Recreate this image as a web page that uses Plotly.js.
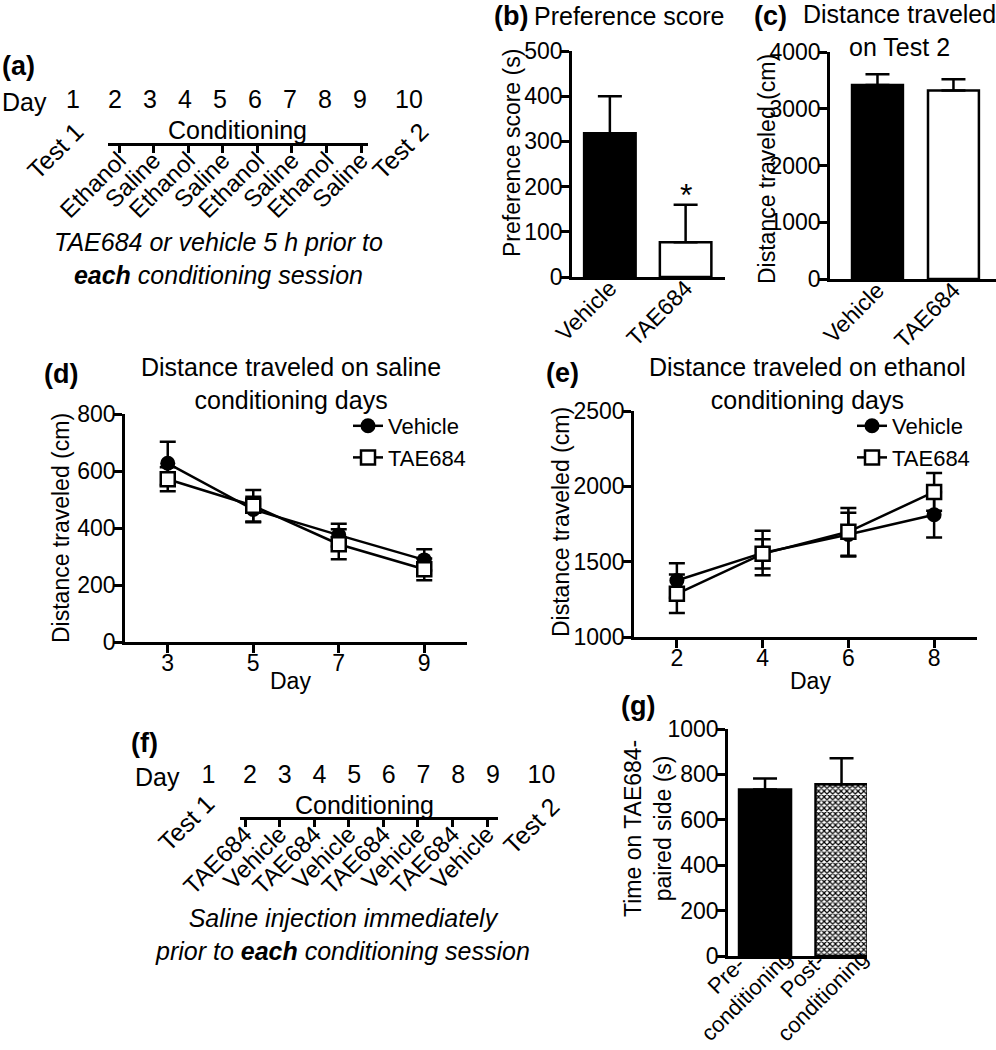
<!DOCTYPE html>
<html><head><meta charset="utf-8">
<script src="https://cdn.plot.ly/plotly-3.0.1.min.js"></script>
<style>html,body{margin:0;padding:0;background:#fff}#chart{width:996px;height:1050px}</style>
</head><body><div id="chart"></div>
<script>
// ---------- data ----------
const groups = ['Vehicle', 'TAE684'];
const preferenceScore = [318, 77];
const preferenceSem = [82, 83];
const test2Distance = [3420, 3320];
const test2Sem = [190, 200];

const salineDays = [3, 5, 7, 9];
const salineVehicle = [627, 465, 375, 288];
const salineVehicleSem = [76, 45, 40, 37];
const salineTAE = [571, 478, 343, 255];
const salineTAESem = [42, 55, 53, 38];

const ethanolDays = [2, 4, 6, 8];
const ethanolVehicle = [1375, 1558, 1680, 1811];
const ethanolVehicleSem = [115, 148, 145, 150];
const ethanolTAE = [1287, 1552, 1698, 1963];
const ethanolTAESem = [128, 97, 158, 125];

const phases = ['Pre-<br>conditioning', 'Post-<br>conditioning'];
const pairedSideTime = [734, 757];
const pairedSideSem = [48, 114];

const scheduleDays = [1, 2, 3, 4, 5, 6, 7, 8, 9, 10];
const conditioningDays = [2, 3, 4, 5, 6, 7, 8, 9];
const sessionsA = ['Ethanol', 'Saline', 'Ethanol', 'Saline', 'Ethanol', 'Saline', 'Ethanol', 'Saline'];
const sessionsF = ['TAE684', 'Vehicle', 'TAE684', 'Vehicle', 'TAE684', 'Vehicle', 'TAE684', 'Vehicle'];
const testLabels = ['Test 1', 'Test 2'];

// ---------- helpers ----------
const W = 996, H = 1050;
const fx = p => p / W;
const fy = p => 1 - p / H;
const FONT = 'Liberation Sans, Arial, Helvetica, sans-serif';

function ax(extra) {
  return Object.assign({
    showline: true, linecolor: '#000', linewidth: 2.5,
    ticks: 'outside', ticklen: 8, tickwidth: 2.5, tickcolor: '#000',
    showgrid: false, zeroline: false, automargin: false, fixedrange: true,
    tickfont: {size: 23, color: '#000', family: FONT}
  }, extra);
}
function hidden(extra) {
  return Object.assign({visible: false, showgrid: false, zeroline: false, fixedrange: true, automargin: false}, extra);
}
function ann(text, x, y, o) {
  return Object.assign({text: text, x: fx(x), y: fy(y), xref: 'paper', yref: 'paper',
    showarrow: false, xanchor: 'center', yanchor: 'middle', align: 'center',
    font: {size: 25, color: '#000', family: FONT}}, o || {});
}
const zeros = a => a.map(() => 0);
const errStyle = {type: 'data', color: '#000', thickness: 2.5};
const F23 = {size: 23, color: '#000', family: FONT};

// ---------- traces ----------
const traces = [];
// (b) preference score
traces.push({type: 'bar', x: groups, y: preferenceScore, xaxis: 'x', yaxis: 'y', width: 0.68,
  marker: {color: ['#000', '#fff'], line: {color: '#000', width: 2.5}},
  error_y: Object.assign({symmetric: false, array: preferenceSem, arrayminus: zeros(preferenceSem), width: 12}, errStyle),
  showlegend: false, hoverinfo: 'skip'});
// (c) distance test 2
traces.push({type: 'bar', x: groups, y: test2Distance, xaxis: 'x2', yaxis: 'y2', width: 0.67,
  marker: {color: ['#000', '#fff'], line: {color: '#000', width: 2.5}},
  error_y: Object.assign({symmetric: false, array: test2Sem, arrayminus: zeros(test2Sem), width: 12}, errStyle),
  showlegend: false, hoverinfo: 'skip'});
// (d) saline days
traces.push({type: 'scatter', mode: 'lines+markers', name: 'Vehicle', x: salineDays, y: salineVehicle,
  xaxis: 'x3', yaxis: 'y3', legend: 'legend', cliponaxis: false,
  line: {color: '#000', width: 2.5}, marker: {symbol: 'circle', size: 15, color: '#000'},
  error_y: Object.assign({array: salineVehicleSem, width: 8}, errStyle)});
traces.push({type: 'scatter', mode: 'lines+markers', name: 'TAE684', x: salineDays, y: salineTAE,
  xaxis: 'x3', yaxis: 'y3', legend: 'legend', cliponaxis: false,
  line: {color: '#000', width: 2.5}, marker: {symbol: 'square', size: 14, color: '#fff', line: {color: '#000', width: 2.5}},
  error_y: Object.assign({array: salineTAESem, width: 8}, errStyle)});
// (e) ethanol days
traces.push({type: 'scatter', mode: 'lines+markers', name: 'Vehicle', x: ethanolDays, y: ethanolVehicle,
  xaxis: 'x4', yaxis: 'y4', legend: 'legend2', cliponaxis: false,
  line: {color: '#000', width: 2.5}, marker: {symbol: 'circle', size: 15, color: '#000'},
  error_y: Object.assign({array: ethanolVehicleSem, width: 8}, errStyle)});
traces.push({type: 'scatter', mode: 'lines+markers', name: 'TAE684', x: ethanolDays, y: ethanolTAE,
  xaxis: 'x4', yaxis: 'y4', legend: 'legend2', cliponaxis: false,
  line: {color: '#000', width: 2.5}, marker: {symbol: 'square', size: 14, color: '#fff', line: {color: '#000', width: 2.5}},
  error_y: Object.assign({array: ethanolTAESem, width: 8}, errStyle)});
// (g) time on paired side
traces.push({type: 'bar', x: phases, y: pairedSideTime, xaxis: 'x5', yaxis: 'y5', width: 0.68,
  marker: {color: '#000', line: {color: '#000', width: 2.5},
    pattern: {shape: ['', 'x'], fillmode: 'replace', fgcolor: '#000', bgcolor: '#fff', size: 4, solidity: 0.5}},
  error_y: Object.assign({symmetric: false, array: pairedSideSem, arrayminus: zeros(pairedSideSem), width: 12}, errStyle),
  showlegend: false, hoverinfo: 'skip'});
// (a) schedule: day numbers
const dayTextPos = scheduleDays.map((d, i) => i === 0 ? 'middle left' : (i === scheduleDays.length - 1 ? 'middle right' : 'middle center'));
traces.push({type: 'scatter', mode: 'text', x: scheduleDays, y: zeros(scheduleDays), text: scheduleDays.map(String),
  textposition: dayTextPos, textfont: {size: 25, color: '#000', family: FONT}, cliponaxis: false,
  xaxis: 'x6', yaxis: 'y6', showlegend: false, hoverinfo: 'skip'});
// (a) conditioning sessions axis carrier
traces.push({type: 'scatter', mode: 'markers', x: conditioningDays, y: zeros(conditioningDays), marker: {opacity: 0},
  xaxis: 'x7', yaxis: 'y7', showlegend: false, hoverinfo: 'skip'});
// (f) conditioning sessions axis carrier
traces.push({type: 'scatter', mode: 'markers', x: conditioningDays, y: zeros(conditioningDays), marker: {opacity: 0},
  xaxis: 'x8', yaxis: 'y8', showlegend: false, hoverinfo: 'skip'});
// (f) schedule: day numbers
traces.push({type: 'scatter', mode: 'text', x: scheduleDays, y: zeros(scheduleDays), text: scheduleDays.map(String),
  textposition: dayTextPos, textfont: {size: 25, color: '#000', family: FONT}, cliponaxis: false,
  xaxis: 'x9', yaxis: 'y9', showlegend: false, hoverinfo: 'skip'});

// ---------- annotations ----------
const bold = s => '<b>' + s + '</b>';
const PL = {size: 27, color: '#000', family: FONT};
const annotations = [
  // panel letters
  ann(bold('(a)'), 0, 66, {xanchor: 'left', font: PL}),
  ann(bold('(b)'), 492, 16, {xanchor: 'left', font: PL}),
  ann(bold('(c)'), 752, 16, {xanchor: 'left', font: PL}),
  ann(bold('(d)'), 42, 374, {xanchor: 'left', font: PL}),
  ann(bold('(e)'), 544, 373, {xanchor: 'left', font: PL}),
  ann(bold('(f)'), 129, 743, {xanchor: 'left', font: PL}),
  ann(bold('(g)'), 619, 706, {xanchor: 'left', font: PL}),
  // titles
  ann('Preference score', 629, 16),
  ann('Distance traveled<br>on Test 2', 899, 30),
  ann('Distance traveled on saline<br>conditioning days', 291, 384),
  ann('Distance traveled on ethanol<br>conditioning days', 807, 383),
  // y titles
  ann('Preference score (s)', 512, 153, {textangle: -90, font: F23}),
  ann('Distance traveled (cm)', 767, 169, {textangle: -90, font: F23}),
  ann('Distance traveled (cm)', 61, 528, {textangle: -90, font: F23}),
  ann('Distance traveled (cm)', 561, 522, {textangle: -90, font: F23}),
  ann('Time on TAE684-<br>paired side (s)', 648, 829, {textangle: -90, font: F23}),
  // x titles
  ann('Day', 290, 681, {font: F23}),
  ann('Day', 810, 681, {font: F23}),
  // significance
  {text: '*', x: groups[1], y: preferenceScore[1] + preferenceSem[1], xref: 'x', yref: 'y', showarrow: false,
   yanchor: 'bottom', yshift: -10, font: {size: 32, color: '#000', family: FONT}},
  // schedule (a)
  ann('Day', 24, 102),
  ann('Conditioning', 237, 130),
  ann(testLabels[0], 55, 151, {textangle: -45}),
  ann(testLabels[1], 400, 151, {textangle: -45}),
  ann('<i>TAE684 or vehicle 5 h prior to<br><b>each</b> conditioning session</i>', 218, 258),
  // schedule (f)
  ann('Day', 157, 777),
  ann('Conditioning', 364, 805),
  ann(testLabels[0], 186, 823, {textangle: -45}),
  ann(testLabels[1], 531, 826, {textangle: -45}),
  ann('<i>Saline injection immediately<br>prior to <b>each</b> conditioning session</i>', 342, 934)
];
// (g) category labels, centred multi-line blocks rotated -45 below the bars
phases.forEach((p, i) => annotations.push({text: p, x: i, xref: 'x5', y: fy(986), yref: 'paper',
  xshift: -29, textangle: -45, align: 'center', showarrow: false, xanchor: 'center', yanchor: 'middle',
  font: {size: 22, color: '#000', family: FONT}}));

// ---------- layout ----------
const layout = {
  width: W, height: H, margin: {l: 0, r: 0, t: 0, b: 0, pad: 0},
  paper_bgcolor: '#fff', plot_bgcolor: 'rgba(0,0,0,0)',
  font: {family: FONT, color: '#000', size: 23},
  xaxis: ax({domain: [fx(572), fx(725)], anchor: 'y', type: 'category', range: [-0.5, 1.52], ticks: '', tickangle: -45, ticklabelstandoff: -14}),
  yaxis: ax({domain: [fy(277), fy(51)], anchor: 'x', range: [0, 500], dtick: 100, ticklabelstandoff: -6}),
  xaxis2: ax({domain: [fx(830), fx(996)], anchor: 'y2', type: 'category', range: [-0.625, 1.56], ticks: '', tickangle: -45, ticklabelstandoff: -14}),
  yaxis2: ax({domain: [fy(279), fy(52)], anchor: 'x2', range: [0, 4000], dtick: 1000, ticklabelstandoff: -6}),
  xaxis3: ax({domain: [fx(125), fx(467)], anchor: 'y3', range: [2, 10], tickvals: salineDays, ticklabelstandoff: -9}),
  yaxis3: ax({domain: [fy(642), fy(414)], anchor: 'x3', range: [0, 800], dtick: 200, ticklabelstandoff: -6}),
  xaxis4: ax({domain: [fx(634), fx(977)], anchor: 'y4', range: [1, 9], tickvals: ethanolDays, ticklabelstandoff: -9}),
  yaxis4: ax({domain: [fy(637), fy(411)], anchor: 'x4', range: [1000, 2500], dtick: 500, ticklabelstandoff: -6}),
  xaxis5: ax({domain: [fx(728), fx(867)], anchor: 'y5', type: 'category', range: [-0.484, 1.333], ticks: '', showticklabels: false}),
  yaxis5: ax({domain: [fy(956), fy(729)], anchor: 'x5', range: [0, 1000], dtick: 200, ticklabelstandoff: -6}),
  xaxis6: hidden({domain: [0, fx(458)], anchor: 'y6', range: [2 - 115 / 35, 2 + 343 / 35]}),
  yaxis6: hidden({domain: [fy(114), fy(90)], anchor: 'x6', range: [-1, 1]}),
  xaxis7: ax({domain: [fx(108), fx(368)], anchor: 'y7', range: [2 - 11 / 34.57, 9 + 7 / 34.57],
    tickvals: conditioningDays, ticktext: sessionsA, tickangle: -45, ticklen: 7, ticklabelstandoff: -16,
    tickfont: {size: 24, color: '#000', family: FONT}}),
  yaxis7: hidden({domain: [fy(143), fy(133)], anchor: 'x7', range: [0, 1]}),
  xaxis8: ax({domain: [fx(240), fx(498)], anchor: 'y8', range: [2 - 5 / 34.6, 9 + 11 / 34.6],
    tickvals: conditioningDays, ticktext: sessionsF, tickangle: -45, ticklen: 7, ticklabelstandoff: -16,
    tickfont: {size: 24, color: '#000', family: FONT}}),
  yaxis8: hidden({domain: [fy(817), fy(807)], anchor: 'x8', range: [0, 1]}),
  xaxis9: hidden({domain: [fx(100), fx(600)], anchor: 'y9', range: [2 - 150 / 34.7, 2 + 350 / 34.7]}),
  yaxis9: hidden({domain: [fy(789), fy(765)], anchor: 'x9', range: [-1, 1]}),
  legend: {x: fx(348), y: fy(405), xanchor: 'left', yanchor: 'top', bgcolor: 'rgba(0,0,0,0)',
    font: {size: 22, color: '#000', family: FONT}, itemwidth: 30, tracegroupgap: 0},
  legend2: {x: fx(852), y: fy(405), xanchor: 'left', yanchor: 'top', bgcolor: 'rgba(0,0,0,0)',
    font: {size: 22, color: '#000', family: FONT}, itemwidth: 30, tracegroupgap: 0},
  annotations: annotations
};

Plotly.newPlot('chart', traces, layout, {displayModeBar: false, responsive: false});
</script>
</body></html>
